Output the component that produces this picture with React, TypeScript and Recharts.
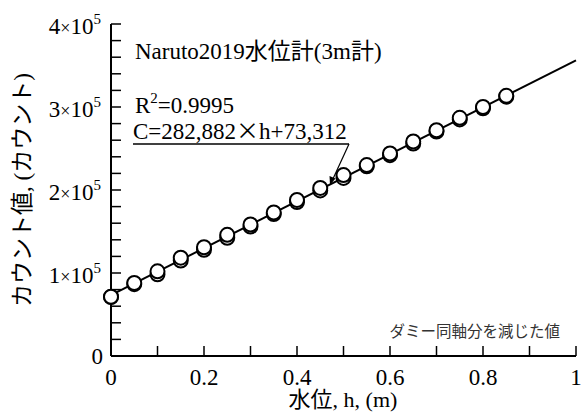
import {
  ComposedChart,
  Scatter,
  Line,
  XAxis,
  YAxis,
} from "recharts";

const H = [0, 0.05, 0.1, 0.15, 0.2, 0.25, 0.3, 0.35, 0.4, 0.45, 0.5, 0.55, 0.6, 0.65, 0.7, 0.75, 0.8, 0.85];
const COUNT_RAW = [
  71000, 86500, 98500, 115000, 128000, 142500, 156000, 171000, 185500,
  199500, 214500, 228500, 242000, 256000, 270500, 285000, 298500, 312500,
];
const COUNT_CORR = [
  71500, 88000, 102000, 118500, 131000, 146000, 158500, 173000, 188000,
  202500, 218000, 230000, 244000, 258500, 272000, 287000, 300000, 313500,
];
const FIT_H = [0, 1];
const FIT_C = [73312, 356194];

const X_TICKS = [0, 0.1, 0.2, 0.3, 0.4, 0.5, 0.6, 0.7, 0.8, 0.9, 1];
const X_MAJOR = [0, 0.2, 0.4, 0.6, 0.8, 1];
const X_LABELS = ["0", "0.2", "0.4", "0.6", "0.8", "1"];
const Y_TICKS = Array.from({ length: 21 }, (_, i) => i * 20000);
const Y_MAJOR = [0, 100000, 200000, 300000, 400000];
const Y_MANT = ["0", "1", "2", "3", "4"];

const rawData = H.map((h, i) => ({ h, c: COUNT_RAW[i] }));
const corrData = H.map((h, i) => ({ h, c: COUNT_CORR[i] }));
const fitData = FIT_H.map((h, i) => ({ h, c: FIT_C[i] }));

const FONT = "'Liberation Serif', 'Noto Sans CJK JP', serif";
const CJK = "'Noto Sans CJK JP', sans-serif";
const TICK = 10;

const near = (a: number, b: number) => Math.abs(a - b) < 1e-6;

function BottomTick(props: any) {
  const { x, y, payload } = props;
  const idx = X_MAJOR.findIndex((v) => near(v, payload.value));
  return (
    <g>
      <line x1={x} y1={y} x2={x} y2={y - TICK} stroke="#000" strokeWidth={1.5} />
      {idx >= 0 && (
        <text x={x} y={y + 29} textAnchor="middle" fontSize={23} fontFamily={FONT} fill="#000">
          {X_LABELS[idx]}
        </text>
      )}
    </g>
  );
}

function TopTick(props: any) {
  const { x, y } = props;
  return <line x1={x} y1={y} x2={x} y2={y + TICK} stroke="#000" strokeWidth={1.5} />;
}

function LeftTick(props: any) {
  const { x, y, payload } = props;
  const idx = Y_MAJOR.findIndex((v) => near(v, payload.value));
  return (
    <g>
      <line x1={x} y1={y} x2={x + TICK} y2={y} stroke="#000" strokeWidth={1.5} />
      {idx === 0 && (
        <text x={x - 8} y={y + 8} textAnchor="end" fontSize={23} fontFamily={FONT} fill="#000">
          0
        </text>
      )}
      {idx > 0 && (
        <text x={x - 10} y={y + 10} textAnchor="end" fontSize={23} fontFamily={FONT} fill="#000">
          <tspan>{Y_MANT[idx]}</tspan>
          <tspan fontSize={18}>×</tspan>
          <tspan>10</tspan>
          <tspan fontSize={15} dy={-10}>5</tspan>
        </text>
      )}
    </g>
  );
}

function RightTick(props: any) {
  const { x, y } = props;
  return <line x1={x} y1={y} x2={x - TICK} y2={y} stroke="#000" strokeWidth={1.5} />;
}

function OpenCircle(props: any) {
  const { cx, cy } = props;
  return <circle cx={cx} cy={cy} r={7} fill="#fff" stroke="#000" strokeWidth={2} />;
}

const axisLine = { stroke: "#000", strokeWidth: 2 };

export default function App() {
  return (
    <div style={{ position: "absolute", left: 0, top: 0, width: 588, height: 414, background: "#fff" }}>
      <ComposedChart
        width={588}
        height={414}
        margin={{ top: 24, right: 12, bottom: 0, left: 0 }}
      >
        <XAxis
          xAxisId="b"
          type="number"
          dataKey="h"
          domain={[0, 1]}
          ticks={X_TICKS}
          interval={0}
          height={58}
          tickSize={0}
          tickMargin={0}
          tickLine={false}
          axisLine={axisLine}
          tick={<BottomTick />}
        />
        <XAxis
          xAxisId="t"
          orientation="top"
          type="number"
          dataKey="h"
          domain={[0, 1]}
          ticks={X_TICKS}
          interval={0}
          height={0}
          tickSize={0}
          tickMargin={0}
          tickLine={false}
          axisLine={axisLine}
          tick={<TopTick />}
        />
        <YAxis
          yAxisId="l"
          type="number"
          dataKey="c"
          domain={[0, 400000]}
          ticks={Y_TICKS}
          interval={0}
          width={111}
          tickSize={0}
          tickMargin={0}
          tickLine={false}
          axisLine={axisLine}
          tick={<LeftTick />}
        />
        <YAxis
          yAxisId="r"
          orientation="right"
          type="number"
          dataKey="c"
          domain={[0, 400000]}
          ticks={Y_TICKS}
          interval={0}
          width={0}
          tickSize={0}
          tickMargin={0}
          tickLine={false}
          axisLine={axisLine}
          tick={<RightTick />}
        />
        <Line
          xAxisId="b"
          yAxisId="l"
          data={fitData}
          dataKey="c"
          stroke="#000"
          strokeWidth={2}
          dot={false}
          isAnimationActive={false}
        />
        <Scatter
          xAxisId="b"
          yAxisId="l"
          data={rawData}
          dataKey="c"
          shape={<OpenCircle />}
          isAnimationActive={false}
        />
        <Scatter
          xAxisId="b"
          yAxisId="l"
          data={corrData}
          dataKey="c"
          shape={<OpenCircle />}
          isAnimationActive={false}
        />
      </ComposedChart>
      <svg
        width={588}
        height={414}
        style={{ position: "absolute", left: 0, top: 0, pointerEvents: "none" }}
        fontFamily={FONT}
      >
        <text x={135} y={59} fontSize={23} fill="#000">
          Naruto2019水位計(3m計)
        </text>
        <text x={135} y={113} fontSize={23} fill="#000">
          <tspan>R</tspan>
          <tspan fontSize={15} dy={-10}>2</tspan>
          <tspan dy={10}>=0.9995</tspan>
        </text>
        <text x={133} y={139} fontSize={23} fill="#000">
          <tspan>C=282,882</tspan>
          <tspan fontFamily={CJK}>×</tspan>
          <tspan>h+73,312</tspan>
        </text>
        <line x1={133} y1={144} x2={349} y2={144} stroke="#000" strokeWidth={1.5} />
        <line x1={349} y1={144} x2={332} y2={181} stroke="#000" strokeWidth={1.2} />
        <polygon points="330,185 329.5,176 335.5,178.5" fill="#000" />
        <text x={560} y={337} fontSize={15.5} textAnchor="end" fill="#333" fontFamily={CJK}>
          ダミー同軸分を減じた値
        </text>
        <text x={343} y={407} fontSize={22} textAnchor="middle" fill="#000">
          水位, h, (m)
        </text>
        <text
          x={0}
          y={0}
          fontSize={23}
          textAnchor="middle"
          fill="#000"
          transform="translate(30,190) rotate(-90)"
        >
          カウント値, (カウント)
        </text>
      </svg>
    </div>
  );
}
